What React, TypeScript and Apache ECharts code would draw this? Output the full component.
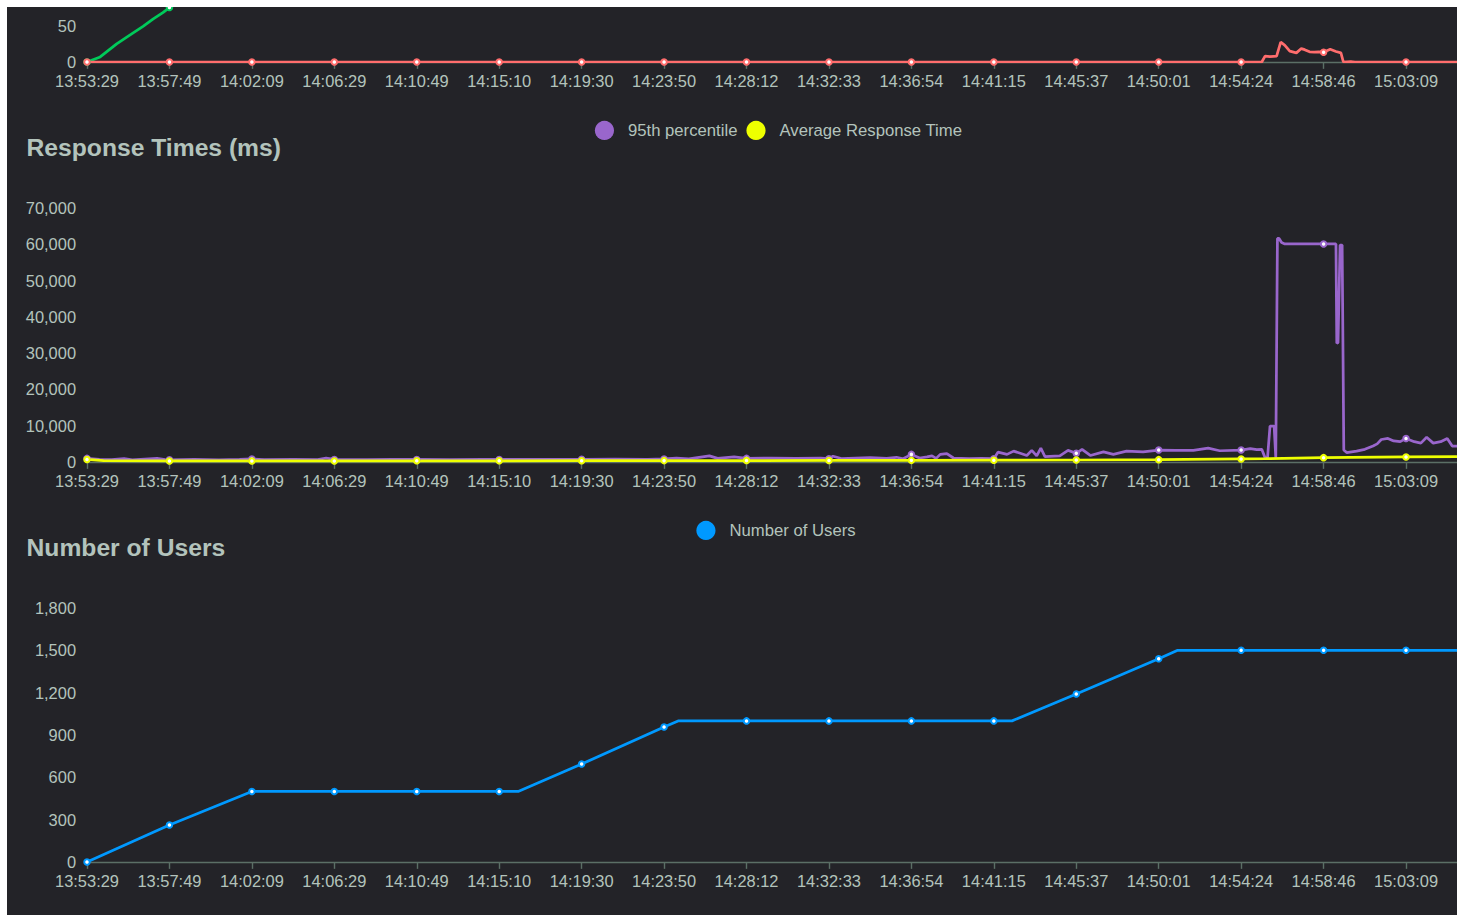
import React, { useEffect, useRef } from 'react';
import * as echarts from 'echarts';

// ---- data (x = position in tick-label units along the time axis) ----
const tickLabels = [
  '13:53:29', '13:57:49', '14:02:09', '14:06:29', '14:10:49', '14:15:10',
  '14:19:30', '14:23:50', '14:28:12', '14:32:33', '14:36:54', '14:41:15',
  '14:45:37', '14:50:01', '14:54:24', '14:58:46', '15:03:09',
];

const rpsPoints: [number, number][] = [
  [0, 0], [0.16, 7], [0.36, 25], [0.56, 40], [0.68, 49], [0.8, 59], [0.92, 68], [1, 75],
  [1.5, 108], [2, 140], [3, 140], [4, 141], [5, 140], [5.23, 140], [6, 195], [7, 265],
  [7.17, 275], [8, 278], [9, 276], [10, 279], [11, 277], [11.22, 278], [12, 318], [13, 330],
  [13.23, 334], [14, 333], [15, 330], [16, 331], [16.97, 330],
];

const failPoints: [number, number][] = [
  [0, 0], [1, 0], [2, 0], [3, 0], [4, 0], [5, 0], [6, 0], [7, 0], [8, 0], [9, 0], [10, 0],
  [11, 0], [12, 0], [13, 0], [14, 0], [14.25, 0], [14.29, 8], [14.35, 7.5], [14.43, 8],
  [14.48, 27.5], [14.53, 23], [14.59, 15], [14.67, 12.6], [14.73, 18.5], [14.77, 17],
  [14.83, 14], [14.89, 13.5], [14.94, 14], [15, 13.5], [15.08, 17.5], [15.15, 14.5],
  [15.21, 12.6], [15.24, 0], [15.33, 0.6], [15.38, 0], [16, 0], [16.97, 0],
];

const p95Points: [number, number][] = [
  [0, 1000], [0.15, 700], [0.3, 650], [0.45, 950], [0.55, 600], [0.85, 1000], [0.95, 650],
  [1, 600], [1.3, 700], [1.6, 600], [1.85, 700], [2, 850], [2.15, 650], [2.5, 700], [2.8, 650],
  [2.9, 1100], [3, 700], [3.4, 650], [3.7, 700], [4, 700], [4.4, 650], [4.8, 700], [5, 700],
  [5.4, 750], [5.8, 700], [6, 750], [6.4, 800], [6.8, 750], [7, 850], [7.15, 1100], [7.3, 850],
  [7.55, 1700], [7.65, 1000], [7.85, 1400], [8, 1000], [8.3, 1100], [8.6, 1000], [8.9, 1100],
  [9, 900], [9.05, 1600], [9.15, 950], [9.5, 1200], [9.7, 1000], [9.82, 1300], [9.9, 900],
  [10, 2100], [10.1, 1100], [10.19, 1400], [10.25, 1700], [10.3, 1000], [10.35, 2100],
  [10.43, 2300], [10.51, 1100], [10.7, 900], [10.85, 1000], [11, 900], [11.05, 2700],
  [11.16, 2100], [11.24, 3000], [11.32, 2400], [11.4, 1800], [11.46, 3200], [11.52, 1700],
  [11.57, 3800], [11.62, 1500], [11.8, 1700], [11.9, 3200], [12, 2400], [12.07, 3500],
  [12.17, 1800], [12.33, 2800], [12.45, 2100], [12.61, 3000], [12.81, 2800], [13, 3300],
  [13.21, 3200], [13.42, 3200], [13.6, 3800], [13.74, 3100], [14, 3300], [14.11, 3700],
  [14.19, 3400], [14.25, 3500], [14.29, 1200], [14.32, 1200], [14.35, 9900], [14.4, 9900],
  [14.42, 1200], [14.44, 61600], [14.46, 61600], [14.49, 60500], [14.53, 60100], [15, 60100],
  [15.15, 60100], [15.16, 32700], [15.175, 32900], [15.2, 59800], [15.225, 59800],
  [15.245, 3300], [15.28, 2600], [15.4, 3000], [15.5, 3500], [15.6, 4400], [15.65, 5000],
  [15.7, 6200], [15.78, 6500], [15.85, 5800], [15.93, 5600], [16, 6500], [16.1, 5600],
  [16.18, 5200], [16.25, 6800], [16.33, 5200], [16.42, 5600], [16.5, 6500], [16.56, 4400],
  [16.7, 4400], [16.97, 4500],
];

const avgPoints: [number, number][] = [
  [0, 700], [0.2, 350], [1, 300], [2, 300], [3, 300], [4, 320], [5, 330], [6, 350], [7, 380],
  [8, 400], [9, 420], [10, 450], [11, 500], [12, 550], [13, 650], [14, 850], [14.3, 900],
  [15, 1200], [16, 1400], [16.97, 1550],
];

const userPoints: [number, number][] = [
  [0, 0], [1, 262], [2, 500], [3, 500], [4, 500], [5, 500], [5.23, 500], [6, 694], [7, 957],
  [7.17, 1000], [8, 1000], [9, 1000], [10, 1000], [11, 1000], [11.22, 1000], [12, 1190],
  [13, 1440], [13.23, 1500], [14, 1500], [15, 1500], [16, 1500], [16.97, 1500],
];

// panel 0 is the partly scrolled-away requests chart: only its lowest part is visible
const panelTitles = ['', 'Response Times (ms)', 'Number of Users'];
const yMaxes = [75.8, 70000, 1800];
const yIntervals = [50, 10000, 300];

// ---- styling / layout ----
const S = 1.37;
const BG = '#232328';
const TEXT = '#b3c3bc';
const AXIS = '#5b6f66';
const X_MAX = 16.97;
const CHART_W = 1534;
const CHART_H = 908;
const FONT = '"Liberation Sans", Arial, Helvetica, sans-serif';
// layout per panel: panel top, grid top, grid height, legend left
const panelTops = [-293, 107, 507];
const gridTops = [0, 201, 601];
const gridHeights = [55, 254, 254];
const legendLefts = [0, 581, 682.5];

function isTick(x: number) {
  return Math.abs(x - Math.round(x)) < 1e-6;
}

export default function App() {
  const ref = useRef<HTMLDivElement>(null);

  useEffect(() => {
    if (!ref.current) return;
    const chart = echarts.init(ref.current, undefined, { renderer: 'svg' });

    const seriesDefs = [
      [
        { name: 'RPS', color: '#00ca5a', data: rpsPoints },
        { name: 'Failures/s', color: '#ff6d6d', data: failPoints },
      ],
      [
        { name: '95th percentile', color: '#9966cc', data: p95Points },
        { name: 'Average Response Time', color: '#eeff00', data: avgPoints },
      ],
      [{ name: 'Number of Users', color: '#0099ff', data: userPoints }],
    ];

    const titles: any[] = [];
    const legends: any[] = [];
    const grids: any[] = [];
    const xAxes: any[] = [];
    const yAxes: any[] = [];
    const series: any[] = [];

    for (let i = 0; i < 3; i++) {
      const top = panelTops[i];
      if (i > 0) {
        titles.push({
          text: panelTitles[i],
          left: 12.7,
          top: top + 10 * S,
          padding: 5 * S,
          textStyle: { color: TEXT, fontSize: 18 * S, fontWeight: 'bold', fontFamily: FONT },
        });
        legends.push({
          data: seriesDefs[i].map((s) => s.name),
          top: top,
          left: legendLefts[i],
          padding: 5 * S,
          icon: 'circle',
          itemWidth: 37,
          itemHeight: 14 * S,
          itemGap: 9,
          textStyle: { color: TEXT, fontSize: 16.7, fontFamily: FONT },
        });
      }
      grids.push({ left: 80, right: 55, top: gridTops[i], height: gridHeights[i] });
      xAxes.push({
        type: 'value',
        gridIndex: i,
        min: 0,
        max: X_MAX,
        interval: 1,
        splitLine: { show: false },
        axisLine: { show: true, lineStyle: { color: AXIS, width: 1.4 } },
        axisTick: { show: true, length: 5 * S, lineStyle: { color: AXIS, width: 1.4 } },
        axisLabel: {
          color: TEXT,
          fontSize: 12 * S,
          fontFamily: FONT,
          margin: 8 * S,
          showMaxLabel: false,
          formatter: (v: number) => {
            if (!isTick(v)) return '';
            return tickLabels[Math.round(v)] ?? '';
          },
        },
      });
      yAxes.push({
        type: 'value',
        gridIndex: i,
        min: 0,
        max: yMaxes[i],
        interval: yIntervals[i],
        splitLine: { show: false },
        axisLine: { show: false },
        axisTick: { show: false },
        axisLabel: {
          color: TEXT,
          fontSize: 12 * S,
          fontFamily: FONT,
          margin: 8 * S,
          showMaxLabel: i > 0,
        },
      });
      seriesDefs[i].forEach((s) => {
        series.push({
          type: 'line',
          name: s.name,
          xAxisIndex: i,
          yAxisIndex: i,
          data: s.data,
          color: s.color,
          symbol: (val: number[]) => (isTick(val[0]) ? 'emptyCircle' : 'none'),
          symbolSize: 4 * S,
          showSymbol: true,
          lineStyle: { width: 2 * S, color: s.color },
          itemStyle: { color: s.color, borderWidth: 2 * S },
          emphasis: { disabled: true },
        });
      });
    }

    chart.setOption({
      animation: false,
      backgroundColor: BG,
      textStyle: { fontFamily: FONT },
      title: titles,
      legend: legends,
      grid: grids,
      xAxis: xAxes,
      yAxis: yAxes,
      series,
    });

    return () => chart.dispose();
  }, []);

  return (
    <div
      style={{
        position: 'absolute',
        left: 7,
        top: 7,
        width: 1450,
        height: 908,
        overflow: 'hidden',
        background: BG,
      }}
    >
      <div
        ref={ref}
        style={{ position: 'absolute', left: 0, top: 0, width: CHART_W, height: CHART_H }}
      />
    </div>
  );
}
